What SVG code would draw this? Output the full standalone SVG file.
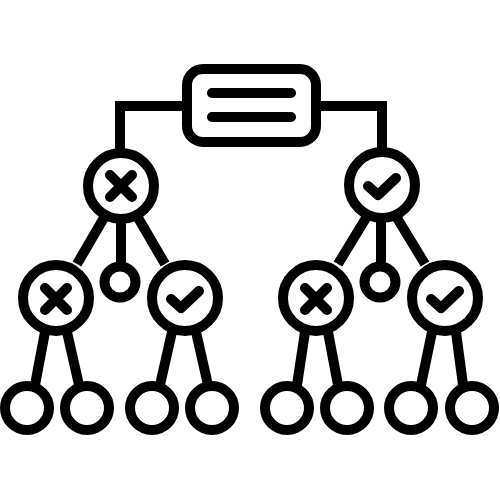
<svg xmlns="http://www.w3.org/2000/svg" width="500" height="500" viewBox="0 0 500 500">
<style>
.s{fill:none;stroke:#000;stroke-width:10;stroke-linecap:round;stroke-linejoin:round}
.c{fill:#fff;stroke:#000;stroke-width:10}
.e{fill:none;stroke:#000;stroke-width:10;stroke-linecap:butt;stroke-linejoin:miter}
</style>
<rect width="500" height="500" fill="#fff"/>
<defs>
<path id="x" class="s" d="M-11,-11 L11,11 M11,-11 L-11,11"/>
<path id="v" class="s" d="M-14,0 L-4,9 L14,-8"/>
</defs>
<g id="connectors">
<path class="e" d="M187,106 H120 V152"/>
<path class="e" d="M316,106 H382 V152"/>
<path class="e" d="M105,216 L77,264 M121,218 V266 M137,216 L165,264"/>
<path class="e" d="M366,218 L338,264 M381,218 V266 M397,218 L425,264"/>
<path class="e" d="M45,332 L35,385 M67,332 L79,385 M172,332 L160,385 M196,332 L208,385"/>
<path class="e" d="M305,332 L297,385 M328,332 L338,385 M432,332 L421,385 M456,332 L463,385"/>
</g>
<g id="root">
<rect x="187" y="69" width="129" height="73" rx="16" class="c"/>
<path class="s" d="M212,93 H291 M212,117 H291"/>
</g>
<g id="n1"><circle cx="121" cy="186" r="33" class="c"/><use href="#x" x="121" y="186"/></g>
<g id="n2"><circle cx="382" cy="185" r="33" class="c"/><use href="#v" x="382" y="186"/></g>
<g id="n3"><circle cx="56" cy="298" r="33" class="c"/><use href="#x" x="56" y="299"/></g>
<g id="n4"><circle cx="120" cy="282" r="15.5" class="c"/></g>
<g id="n5"><circle cx="185" cy="298" r="33" class="c"/><use href="#v" x="185" y="299"/></g>
<g id="n6"><circle cx="316" cy="298" r="33" class="c"/><use href="#x" x="316" y="299"/></g>
<g id="n7"><circle cx="380" cy="282" r="15.5" class="c"/></g>
<g id="n8"><circle cx="445" cy="298" r="33" class="c"/><use href="#v" x="445" y="299"/></g>
<g id="l1"><circle cx="27" cy="408" r="22" class="c"/></g>
<g id="l2"><circle cx="87" cy="408" r="22" class="c"/></g>
<g id="l3"><circle cx="152" cy="408" r="22" class="c"/></g>
<g id="l4"><circle cx="212" cy="408" r="22" class="c"/></g>
<g id="l5"><circle cx="287" cy="408" r="22" class="c"/></g>
<g id="l6"><circle cx="347" cy="408" r="22" class="c"/></g>
<g id="l7"><circle cx="411" cy="408" r="22" class="c"/></g>
<g id="l8"><circle cx="472" cy="408" r="22" class="c"/></g>
</svg>
